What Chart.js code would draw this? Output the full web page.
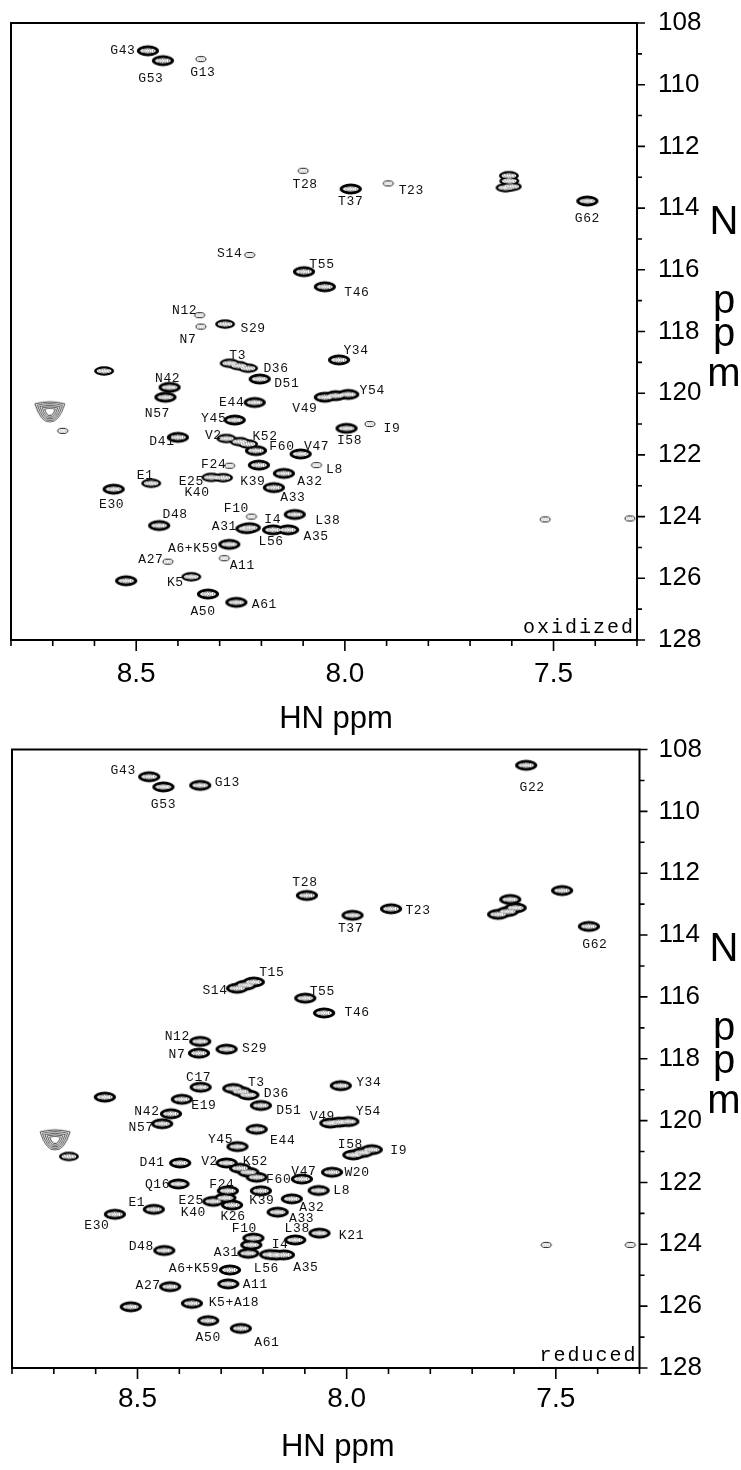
<!DOCTYPE html>
<html>
<head>
<meta charset="utf-8">
<title>1H-15N HSQC, oxidized and reduced</title>
<script src="https://cdn.jsdelivr.net/npm/chart.js@4.4.1/dist/chart.umd.min.js"></script>
<style>
  html, body { margin: 0; padding: 0; background: #fff; }
  #wrap { position: relative; width: 741px; height: 1470px; overflow: hidden; }
  canvas { position: absolute; left: 0; }
  #oxidized { top: 0; }
  #reduced { top: 730px; }
</style>
</head>
<body>
<div id="wrap">
  <canvas id="oxidized" width="741" height="745"></canvas>
  <canvas id="reduced" width="741" height="740"></canvas>
</div>
<script>
// Axis ticks (HN in ppm, reversed; 15N in ppm, reversed)
const hnTicks = [8.8, 8.7, 8.6, 8.5, 8.4, 8.3, 8.2, 8.1, 8.0, 7.9, 7.8, 7.7, 7.6, 7.5, 7.4, 7.3];
const hnLabelTicks = [8.5, 8.0, 7.5];
const nTicks = [108, 109, 110, 111, 112, 113, 114, 115, 116, 117, 118, 119, 120, 121, 122, 123, 124, 125, 126, 127, 128];
const nLabelTicks = [108, 110, 112, 114, 116, 118, 120, 122, 124, 126, 128];

// Oxidized spectrum: assignment, HN shift, N shift, contour level (1 weak .. 3 strong, 4 broad)
const oxLabels = [
  'G43', 'G53', 'G13', 'T28', 'T37', 'T23',
  '', '', '', '', 'G62', 'S14', 'T55',
  'T46', 'N12', 'N7', 'S29', 'T3', '',
  'D36', 'D51', 'Y34', '', 'N42', 'N57',
  'E44', 'V49', '', 'Y54', '', '',
  'Y45', 'I58', 'I9', 'D41', 'V2', '',
  'K52', 'F60', 'V47', 'L8', 'F24', 'K39',
  'A32', 'A33', 'E25', 'K40', 'E1', 'E30',
  'D48', 'F10', 'L38', 'A31', 'I4', 'L56',
  'A35', 'A6+K59', 'A11', 'A27', 'K5', '',
  'A50', 'A61', '', ''
];
const oxHN = [
  8.472, 8.436, 8.345, 8.100, 7.986, 7.896,
  7.615, 7.600, 7.606, 7.607, 7.419, 8.228, 8.098,
  8.048, 8.348, 8.345, 8.287, 8.276, 8.254,
  8.232, 8.204, 8.014, 8.577, 8.420, 8.430,
  8.216, 8.048, 8.022, 7.992, 8.707, 8.676,
  8.264, 7.996, 7.940, 8.400, 8.284, 8.252,
  8.232, 8.213, 8.106, 8.068, 8.276, 8.206,
  8.146, 8.170, 8.320, 8.292, 8.464, 8.554,
  8.445, 8.224, 8.120, 8.236, 8.228, 8.172,
  8.136, 8.277, 8.289, 8.424, 8.368, 8.524,
  8.328, 8.260, 7.520, 7.317
];
const oxN = [
  108.90, 109.22, 109.17, 112.79, 113.38, 113.20,
  113.34, 113.30, 113.12, 112.95, 113.77, 115.52, 116.06,
  116.55, 117.47, 117.84, 117.76, 119.03, 119.11,
  119.19, 119.54, 118.92, 119.28, 119.81, 120.13,
  120.30, 120.13, 120.08, 120.04, 120.60, 121.22,
  120.87, 121.14, 121.00, 121.43, 121.47, 121.57,
  121.65, 121.86, 121.97, 122.33, 122.35, 122.33,
  122.60, 123.06, 122.73, 122.74, 122.92, 123.11,
  124.29, 124.00, 123.93, 124.39, 124.36, 124.43,
  124.43, 124.90, 125.35, 125.46, 125.95, 126.08,
  126.51, 126.78, 124.09, 124.06
];
const oxLevel = [
  3, 3, 1, 1, 3, 1,
  2, 2, 2, 2, 3, 1, 3,
  3, 1, 1, 2, 2, 2,
  2, 3, 3, 2, 3, 3,
  3, 3, 3, 3, 4, 1,
  3, 3, 1, 3, 2, 2,
  2, 3, 3, 1, 1, 3,
  3, 3, 2, 2, 2, 3,
  3, 1, 3, 3, 3, 3,
  3, 3, 1, 1, 2, 3,
  3, 3, 1, 1
];

// Reduced spectrum
const redLabels = [
  'G43', 'G53', 'G13', 'G22', 'T28', 'T37',
  'T23', '', '', '', '', '', 'G62',
  'S14', '', 'T15', 'T55', 'T46', 'N12',
  'N7', 'S29', 'C17', 'T3', '', 'D36',
  'D51', 'Y34', '', 'E19', 'N42', 'N57',
  'V49', '', 'Y54', '', '', 'E44',
  'Y45', 'I58', '', 'I9', 'D41', 'V2',
  '', 'K52', 'F60', 'V47', 'W20', 'L8',
  'Q16', 'F24', 'E25', 'K40', 'K26', 'K39',
  'A32', 'A33', 'E1', 'E30', 'K21', 'L38',
  'F10', '', 'A31', 'I4', 'L56', 'A35',
  'A6+K59', 'A11', 'D48', 'A27', 'K5+A18', '',
  'A50', 'A61', '', ''
];
const redHN = [
  8.472, 8.438, 8.350, 7.571, 8.095, 7.986,
  7.894, 7.485, 7.638, 7.615, 7.596, 7.609, 7.421,
  8.262, 8.242, 8.222, 8.099, 8.054, 8.350,
  8.353, 8.287, 8.349, 8.271, 8.253, 8.235,
  8.205, 8.014, 8.578, 8.394, 8.420, 8.441,
  8.039, 8.018, 7.996, 8.697, 8.664, 8.215,
  8.261, 7.984, 7.962, 7.940, 8.398, 8.287,
  8.255, 8.235, 8.215, 8.107, 8.035, 8.067,
  8.402, 8.284, 8.319, 8.290, 8.274, 8.205,
  8.131, 8.165, 8.461, 8.554, 8.065, 8.123,
  8.223, 8.228, 8.235, 8.183, 8.168, 8.150,
  8.279, 8.283, 8.436, 8.422, 8.370, 8.516,
  8.331, 8.253, 7.523, 7.322
];
const redN = [
  108.88, 109.21, 109.16, 108.51, 112.72, 113.36,
  113.15, 112.56, 113.33, 113.24, 113.12, 112.85, 113.72,
  115.72, 115.62, 115.52, 116.04, 116.52, 117.44,
  117.82, 117.69, 118.92, 118.96, 119.06, 119.17,
  119.51, 118.87, 119.24, 119.31, 119.78, 120.10,
  120.08, 120.05, 120.03, 120.62, 121.16, 120.28,
  120.84, 121.11, 121.03, 120.94, 121.37, 121.37,
  121.54, 121.67, 121.83, 121.89, 121.67, 122.26,
  122.05, 122.27, 122.61, 122.50, 122.73, 122.27,
  122.53, 122.96, 122.87, 123.03, 123.64, 123.86,
  123.80, 124.02, 124.29, 124.33, 124.35, 124.34,
  124.83, 125.28, 124.20, 125.37, 125.91, 126.02,
  126.47, 126.72, 124.02, 124.02
];
const redLevel = [
  3, 3, 3, 3, 3, 3,
  3, 3, 3, 3, 3, 3, 3,
  3, 3, 3, 3, 3, 3,
  3, 3, 3, 3, 3, 3,
  3, 3, 3, 3, 3, 3,
  3, 3, 3, 4, 2, 3,
  3, 3, 3, 3, 3, 3,
  3, 3, 3, 3, 3, 3,
  3, 3, 3, 3, 3, 3,
  3, 3, 3, 3, 3, 3,
  3, 3, 3, 3, 3, 3,
  3, 3, 3, 3, 3, 3,
  3, 3, 1, 1
];

// Where each assignment label sits relative to its peak (pixels)
const oxLabelOffsets = {
  'G43': [-25, 0], 'G53': [-12, 18], 'G13': [2, 13], 'T28': [2, 14], 'T37': [0, 13], 'T23': [23, 7],
  'G62': [0, 18], 'S14': [-20, -1], 'T55': [18, -7], 'T46': [32, 6], 'N12': [-15, -5], 'N7': [-13, 13],
  'S29': [28, 4], 'T3': [8, -8], 'D36': [28, 0], 'D51': [27, 5], 'Y34': [17, -9], 'N42': [-2, -9],
  'N57': [-8, 16], 'E44': [-23, 0], 'V49': [-20, 11], 'Y54': [24, -4], 'Y45': [-21, -1], 'I58': [3, 12],
  'I9': [22, 5], 'D41': [-16, 4], 'V2': [-13, -3], 'K52': [17, -8], 'F60': [26, -4], 'V47': [16, -7],
  'L8': [18, 4], 'F24': [-16, -1], 'K39': [-6, 16], 'A32': [26, 8], 'A33': [19, 10], 'E25': [-20, 4],
  'K40': [-26, 15], 'E1': [-6, -8], 'E30': [-2, 15], 'D48': [16, -11], 'F10': [-15, -8], 'L38': [33, 6],
  'A31': [-22, -2], 'I4': [23, -8], 'L56': [-2, 12], 'A35': [28, 7], 'A6+K59': [-36, 4], 'A11': [18, 7],
  'A27': [-17, -2], 'K5': [-16, 6], 'A50': [-5, 18], 'A61': [28, 2]
};
const redLabelOffsets = {
  'G43': [-26, -6], 'G53': [0, 18], 'G13': [27, -3], 'G22': [6, 22], 'T28': [-2, -13], 'T37': [-2, 13],
  'T23': [27, 2], 'G62': [6, 18], 'S14': [-22, 2], 'T15': [18, -9], 'T55': [17, -7], 'T46': [33, 0],
  'N12': [-23, -5], 'N7': [-22, 1], 'S29': [28, -1], 'C17': [-2, -10], 'T3': [23, -6], 'D36': [28, -1],
  'D51': [28, 5], 'Y34': [28, -3], 'E19': [22, 6], 'N42': [-24, -2], 'N57': [-21, 4], 'V49': [-8, -7],
  'Y54': [20, -10], 'E44': [26, 11], 'Y45': [-17, -7], 'I58': [-3, -10], 'I9': [27, 1], 'D41': [-28, 0],
  'V2': [-17, -1], 'K52': [7, -11], 'F60': [22, 2], 'V47': [2, -7], 'W20': [25, 0], 'L8': [23, 0],
  'Q16': [-21, 1], 'F24': [-6, -6], 'E25': [-22, -1], 'K40': [-32, 15], 'K26': [1, 12], 'K39': [1, 10],
  'A32': [20, 9], 'A33': [24, 6], 'E1': [-17, -7], 'E30': [-18, 11], 'K21': [32, 2], 'L38': [2, -11],
  'F10': [-9, -10], 'A31': [-22, -1], 'I4': [10, -10], 'L56': [-10, 13], 'A35': [22, 13],
  'A6+K59': [-36, -1], 'A11': [27, 1], 'D48': [-23, -4], 'A27': [-22, -1], 'K5+A18': [42, -1],
  'A50': [0, 17], 'A61': [26, 14]
};

const SANS = '"Liberation Sans", Arial, sans-serif';
const MONO = '"Liberation Mono", "DejaVu Sans Mono", monospace';

// --- contour-like point images ---
function peakCanvas(w, h, paint) {
  const c = document.createElement('canvas');
  c.width = w;
  c.height = h;
  if (paint) paint(c.getContext('2d'), w / 2, h / 2);
  return c;
}
function ellipse(g, cx, cy, rx, ry) {
  g.beginPath();
  g.ellipse(cx, cy, rx, ry, 0, 0, Math.PI * 2);
}
function coreTexture(g, cx, cy, rx, ry) {
  ellipse(g, cx, cy, rx, ry);
  g.fillStyle = '#fff';
  g.fill();
  g.setLineDash([1.4, 1]);
  ellipse(g, cx, cy, rx - 1.8, ry - 0.9);
  g.strokeStyle = '#555';
  g.lineWidth = 0.9;
  g.stroke();
  g.beginPath();
  g.moveTo(cx - rx + 4, cy);
  g.lineTo(cx + rx - 4, cy);
  g.strokeStyle = '#888';
  g.stroke();
}

const peakOutline = {
  1: peakCanvas(14, 8, (g, cx, cy) => {
    ellipse(g, cx, cy, 5, 2.6);
    g.strokeStyle = '#222';
    g.lineWidth = 1;
    g.stroke();
    g.setLineDash([1, 1]);
    ellipse(g, cx, cy, 2.6, 1.1);
    g.strokeStyle = '#777';
    g.lineWidth = 0.7;
    g.stroke();
  }),
  2: peakCanvas(24, 12, (g, cx, cy) => {
    ellipse(g, cx, cy, 10, 4.7);
    g.fillStyle = '#000';
    g.fill();
  }),
  3: peakCanvas(26, 14, (g, cx, cy) => {
    ellipse(g, cx, cy, 11.2, 5.4);
    g.fillStyle = '#000';
    g.fill();
  }),
  4: peakCanvas(34, 26, (g, cx, cy) => {
    g.strokeStyle = '#333';
    g.lineWidth = 0.9;
    [1, 0.84, 0.68, 0.52, 0.36].forEach((s) => {
      g.beginPath();
      g.moveTo(cx - 15 * s, cy - 8 * s);
      g.quadraticCurveTo(cx, cy - 12 * s, cx + 15 * s, cy - 8 * s);
      g.quadraticCurveTo(cx + 9 * s, cy + 11 * s, cx, cy + 10 * s);
      g.quadraticCurveTo(cx - 9 * s, cy + 11 * s, cx - 15 * s, cy - 8 * s);
      g.stroke();
    });
  }),
};
const blankPeak = peakCanvas(2, 2);
const peakCore = {
  1: blankPeak,
  2: peakCanvas(22, 10, (g, cx, cy) => coreTexture(g, cx, cy, 7.4, 2.6)),
  3: peakCanvas(22, 10, (g, cx, cy) => coreTexture(g, cx, cy, 7.8, 2.6)),
  4: blankPeak,
};

// --- plugins ---
function peakLabelPlugin(labels, hn, n, offsets) {
  return {
    id: 'peakLabels',
    afterDatasetsDraw(chart) {
      const { ctx, scales: { x, y } } = chart;
      ctx.save();
      ctx.font = '13px ' + MONO;
      ctx.letterSpacing = '0.6px';
      ctx.fillStyle = '#111';
      ctx.textAlign = 'center';
      ctx.textBaseline = 'middle';
      labels.forEach((t, i) => {
        if (!t) return;
        const off = offsets[t] || [0, 0];
        ctx.fillText(t, x.getPixelForValue(hn[i]) + off[0], y.getPixelForValue(n[i]) + off[1]);
      });
      ctx.restore();
    },
  };
}

function panelDecorPlugin(name) {
  return {
    id: 'panelDecor',
    afterDraw(chart) {
      const { ctx, chartArea: a, scales: { x, y } } = chart;
      ctx.save();
      ctx.strokeStyle = '#000';
      ctx.lineWidth = 2;
      ctx.strokeRect(a.left, a.top, a.right - a.left, a.bottom - a.top);

      // tick marks, longer at labelled values
      ctx.lineWidth = 1.6;
      ctx.beginPath();
      x.ticks.forEach((t) => {
        const px = x.getPixelForValue(t.value);
        const len = hnLabelTicks.includes(t.value) ? 11 : 6;
        ctx.moveTo(px, a.bottom);
        ctx.lineTo(px, a.bottom + len);
      });
      y.ticks.forEach((t) => {
        const py = y.getPixelForValue(t.value);
        const len = nLabelTicks.includes(t.value) ? 8 : 5;
        ctx.moveTo(a.right, py);
        ctx.lineTo(a.right + len, py);
      });
      ctx.stroke();

      // axis titles
      ctx.fillStyle = '#000';
      ctx.textAlign = 'center';
      ctx.textBaseline = 'alphabetic';
      ctx.font = '31px ' + SANS;
      ctx.fillText('HN ppm', (a.left + a.right) / 2 + 12, a.bottom + 88);
      ctx.font = '40px ' + SANS;
      [['N', 211], ['p', 290], ['p', 323], ['m', 363]].forEach(([t, dy]) => {
        ctx.fillText(t, 724, a.top + dy);
      });

      // spectrum name
      ctx.font = '20px ' + MONO;
      ctx.letterSpacing = '2px';
      ctx.textAlign = 'right';
      ctx.fillText(name, a.right - 2, a.bottom - 7);
      ctx.restore();
    },
  };
}

function buildPanel(canvasId, name, labels, hn, n, levels, offsets, box) {
  const points = hn.map((v, i) => ({ x: v, y: n[i] }));
  const canvas = document.getElementById(canvasId);
  return new Chart(canvas, {
    type: 'scatter',
    data: {
      datasets: [
        {
          data: points,
          pointStyle: (c) => peakCore[levels[c.dataIndex]],
          pointRadius: 6,
        },
        {
          data: points,
          pointStyle: (c) => peakOutline[levels[c.dataIndex]],
          pointRadius: 6,
        },
      ],
    },
    options: {
      responsive: false,
      animation: false,
      events: [],
      layout: { padding: { left: box.left, top: box.top, right: 0, bottom: 0 } },
      plugins: { legend: { display: false }, tooltip: { enabled: false } },
      scales: {
        x: {
          type: 'linear',
          reverse: true,
          min: 7.3,
          max: 8.8,
          afterBuildTicks: (s) => { s.ticks = hnTicks.map((v) => ({ value: v })); },
          afterFit: (s) => { s.height = box.xHeight; },
          ticks: {
            autoSkip: false,
            maxRotation: 0,
            padding: 0,
            color: '#000',
            font: { family: SANS, size: 28 },
            callback: (v) => (hnLabelTicks.includes(v) ? v.toFixed(1) : ''),
          },
          grid: { display: true, drawOnChartArea: false, drawTicks: true, tickLength: box.xGap, color: 'rgba(0,0,0,0)' },
          border: { display: false },
        },
        y: {
          type: 'linear',
          position: 'right',
          reverse: true,
          min: 108,
          max: 128,
          afterBuildTicks: (s) => { s.ticks = nTicks.map((v) => ({ value: v })); },
          afterFit: (s) => { s.width = box.yWidth; },
          ticks: {
            autoSkip: false,
            padding: 0,
            color: '#000',
            font: { family: SANS, size: 26 },
            callback: (v) => (nLabelTicks.includes(v) ? String(v) : ''),
          },
          grid: { display: true, drawOnChartArea: false, drawTicks: true, tickLength: box.yGap, color: 'rgba(0,0,0,0)' },
          border: { display: false },
        },
      },
    },
    plugins: [peakLabelPlugin(labels, hn, n, offsets), panelDecorPlugin(name)],
  });
}

buildPanel('oxidized', 'oxidized', oxLabels, oxHN, oxN, oxLevel, oxLabelOffsets,
  { left: 11, top: 23, xHeight: 105, yWidth: 104, xGap: 17, yGap: 21 });
buildPanel('reduced', 'reduced', redLabels, redHN, redN, redLevel, redLabelOffsets,
  { left: 12, top: 19.5, xHeight: 102, yWidth: 101.5, xGap: 14, yGap: 19 });
</script>
</body>
</html>
